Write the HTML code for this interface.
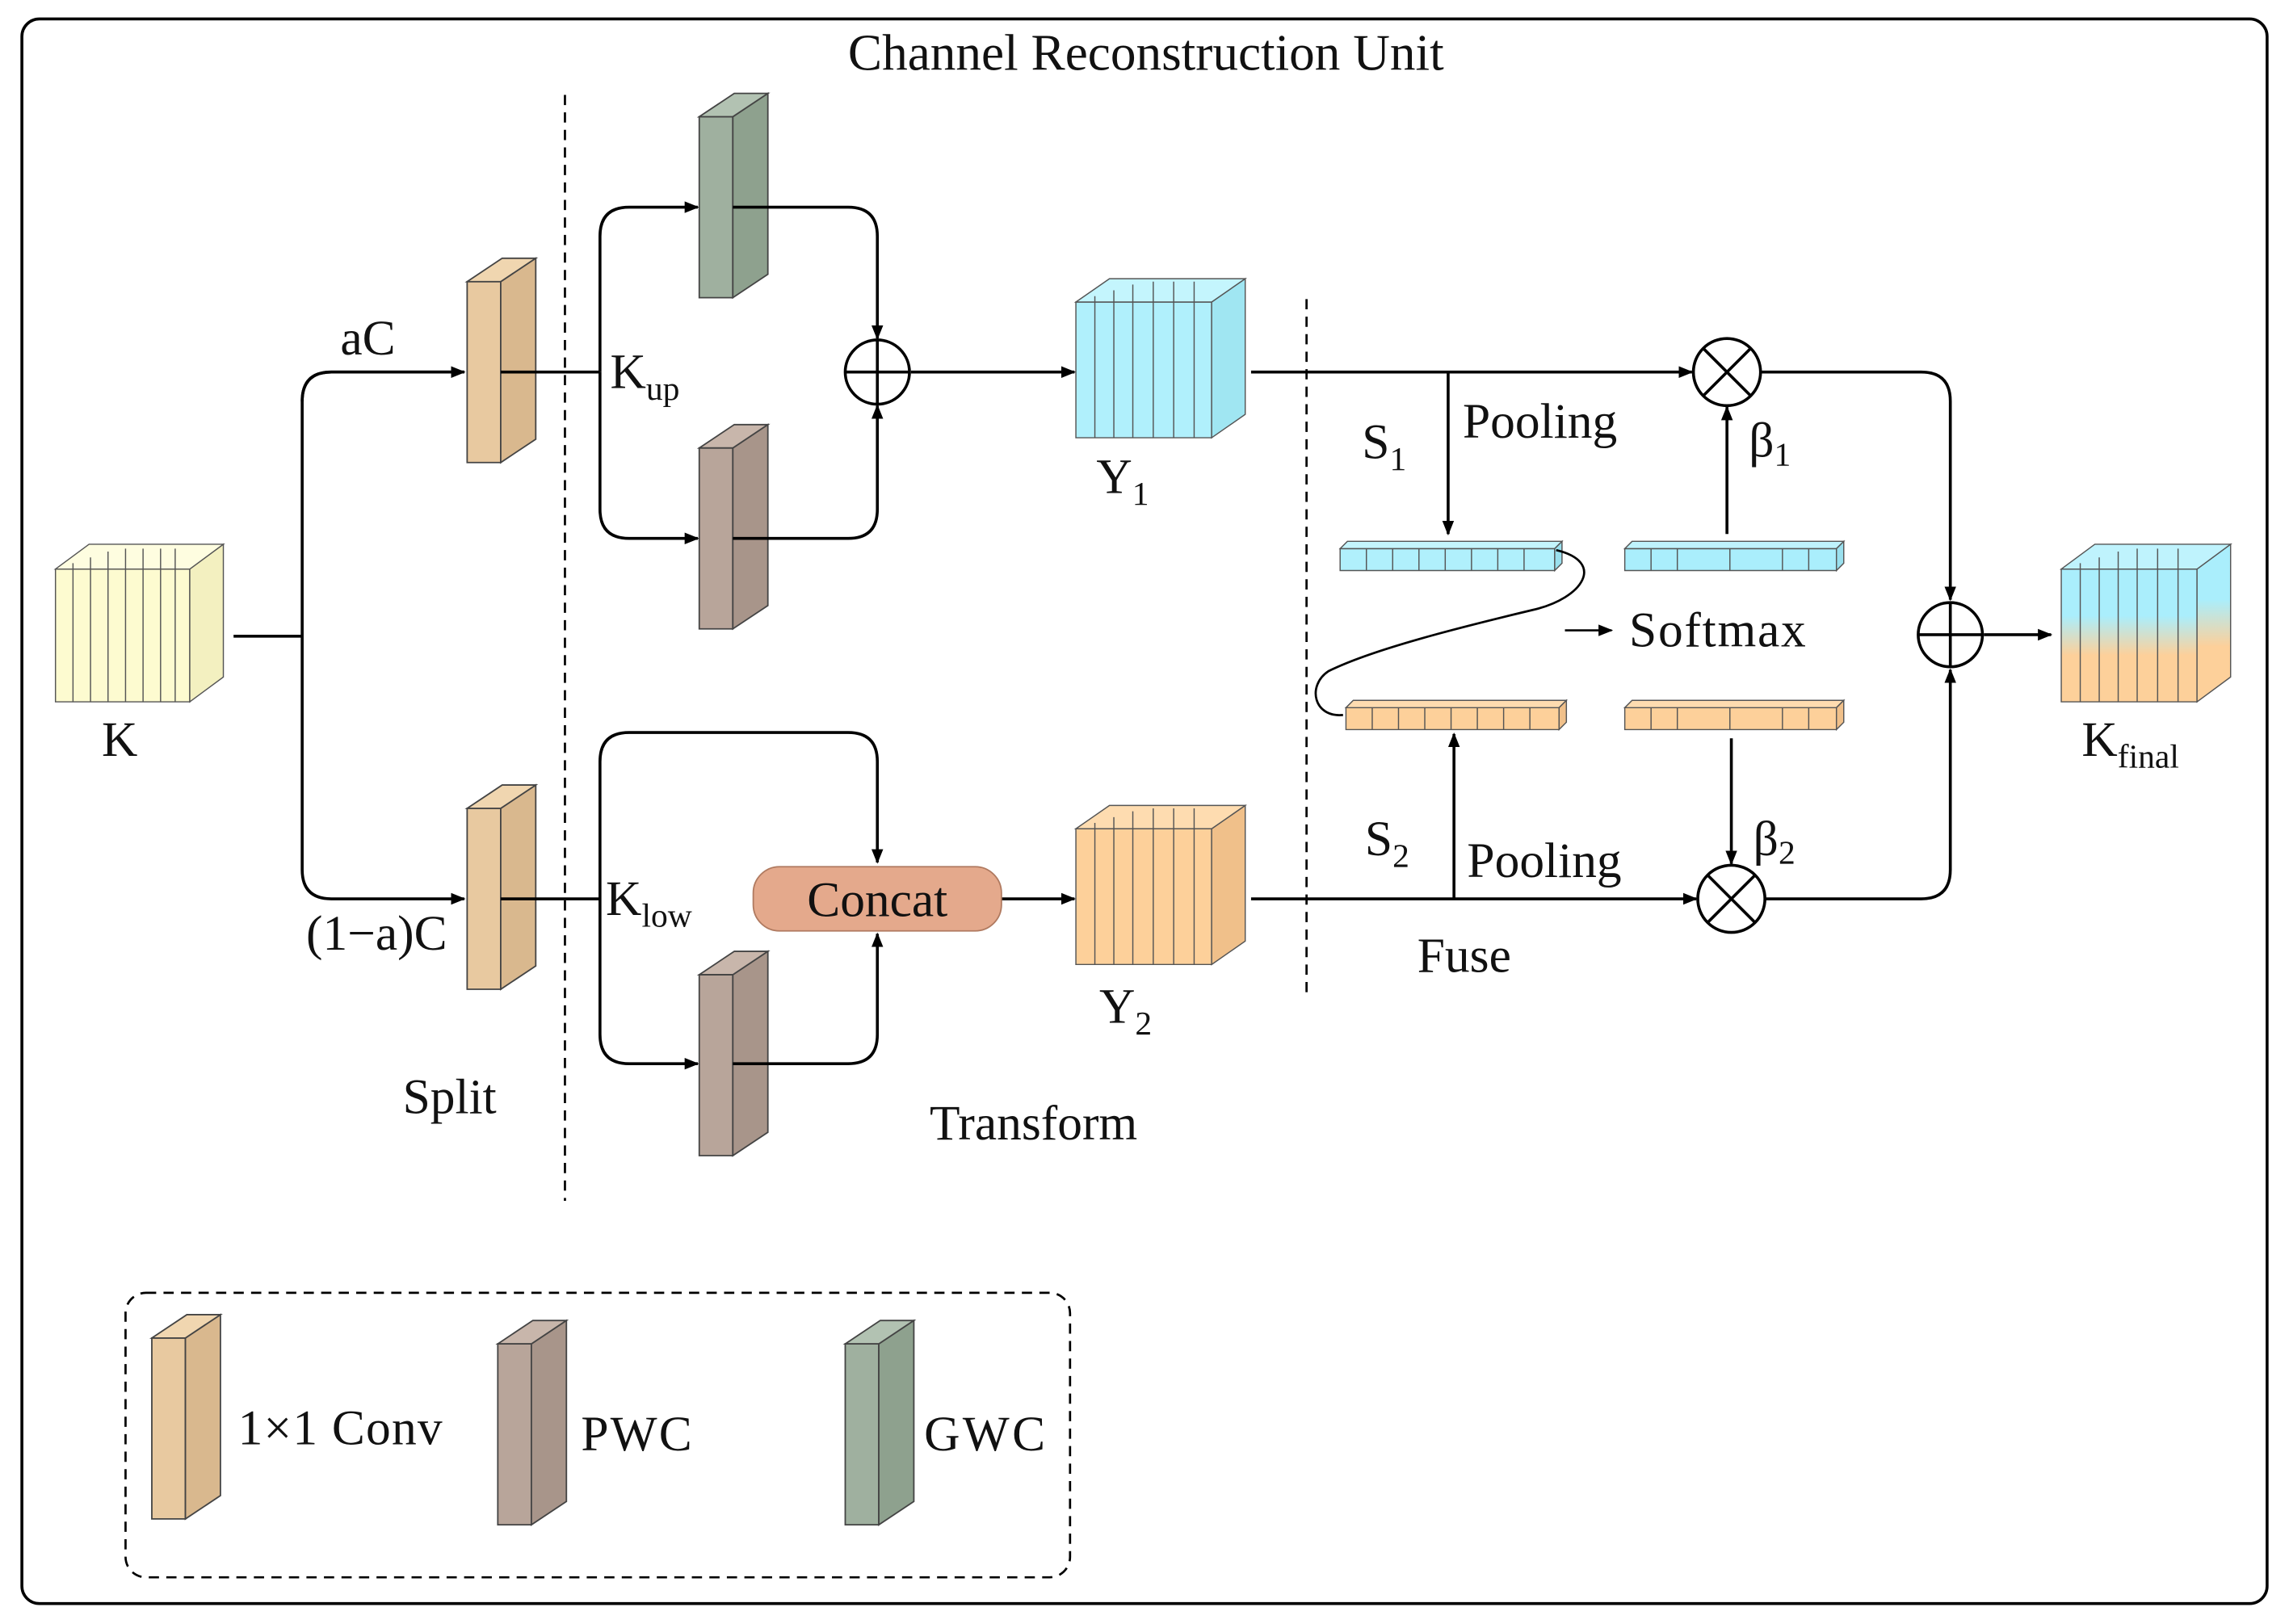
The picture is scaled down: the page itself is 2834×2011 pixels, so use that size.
<!DOCTYPE html>
<html><head><meta charset="utf-8"><style>
html,body{margin:0;padding:0;background:#fff}
svg{display:block}
text{font-family:"Liberation Serif",serif;fill:#111}
</style></head><body>
<svg width="2834" height="2011" viewBox="0 0 1568 1113" preserveAspectRatio="none" xmlns="http://www.w3.org/2000/svg">
<defs>
<marker id="ar" markerWidth="10" markerHeight="10" refX="9" refY="5" orient="auto" markerUnits="userSpaceOnUse"><path d="M0,1 L10,5 L0,9 Z" fill="#000"/></marker>
<linearGradient id="gf" x1="0" y1="0" x2="0" y2="1"><stop offset="0.35" stop-color="#aaeefc"/><stop offset="0.65" stop-color="#fdd09a"/></linearGradient>
</defs>
<rect x="15" y="13" width="1538" height="1086" rx="12" fill="#fff" stroke="#000" stroke-width="2"/>
<text x="785" y="48" font-size="35" text-anchor="middle">Channel Reconstruction Unit</text>
<g stroke="#000" stroke-width="1.5" stroke-dasharray="7,5" fill="none">
<line x1="387" y1="65" x2="387" y2="823"/>
<line x1="895" y1="205" x2="895" y2="680"/>
<rect x="86" y="886" width="647" height="195" rx="14"/>
</g>
<g stroke="#444" stroke-width="1">
<path d="M320,193 h23 v124 h-23z" fill="#e8c9a0"/><path d="M343,193 l24,-16 v124 l-24,16z" fill="#d9b88e"/><path d="M320,193 l24,-16 h23 l-24,16z" fill="#f0d6b0"/>
<path d="M320,554 h23 v124 h-23z" fill="#e8c9a0"/><path d="M343,554 l24,-16 v124 l-24,16z" fill="#d9b88e"/><path d="M320,554 l24,-16 h23 l-24,16z" fill="#f0d6b0"/>
<path d="M104,917 h23 v124 h-23z" fill="#e8c9a0"/><path d="M127,917 l24,-16 v124 l-24,16z" fill="#d9b88e"/><path d="M104,917 l24,-16 h23 l-24,16z" fill="#f0d6b0"/>
<path d="M479,80 h23 v124 h-23z" fill="#9fb09f"/><path d="M502,80 l24,-16 v124 l-24,16z" fill="#8ea18e"/><path d="M479,80 l24,-16 h23 l-24,16z" fill="#b2c2b2"/>
<path d="M579,921 h23 v124 h-23z" fill="#9fb09f"/><path d="M602,921 l24,-16 v124 l-24,16z" fill="#8ea18e"/><path d="M579,921 l24,-16 h23 l-24,16z" fill="#b2c2b2"/>
<path d="M479,307 h23 v124 h-23z" fill="#b8a59a"/><path d="M502,307 l24,-16 v124 l-24,16z" fill="#a8958a"/><path d="M479,307 l24,-16 h23 l-24,16z" fill="#c8b6ab"/>
<path d="M479,668 h23 v124 h-23z" fill="#b8a59a"/><path d="M502,668 l24,-16 v124 l-24,16z" fill="#a8958a"/><path d="M479,668 l24,-16 h23 l-24,16z" fill="#c8b6ab"/>
<path d="M341,921 h23 v124 h-23z" fill="#b8a59a"/><path d="M364,921 l24,-16 v124 l-24,16z" fill="#a8958a"/><path d="M341,921 l24,-16 h23 l-24,16z" fill="#c8b6ab"/>
</g>
<g stroke="#555" stroke-width="0.8">
<path d="M38,390 h92 v91 h-92z" fill="#fdfbd0"/><path d="M130,390 l23,-17 v91 l-23,17z" fill="#f3f0c0"/><path d="M38,390 l23,-17 h92 l-23,17z" fill="#fefde0"/>
<path d="M50,386 v95 M62,382 v99 M74,378 v103 M86,376 v105 M98,376 v105 M110,376 v105 M120,376 v105" fill="none"/>
<path d="M737,207 h93 v93 h-93z" fill="#b0f0fc"/><path d="M830,207 l23,-16 v93 l-23,16z" fill="#a0e6f2"/><path d="M737,207 l23,-16 h93 l-23,16z" fill="#c4f5fd"/>
<path d="M750,203 v97 M763,199 v101 M776,195 v105 M790,193 v107 M804,193 v107 M818,193 v107" fill="none"/>
<path d="M737,568 h93 v93 h-93z" fill="#fdd09a"/><path d="M830,568 l23,-16 v93 l-23,16z" fill="#f0c08a"/><path d="M737,568 l23,-16 h93 l-23,16z" fill="#fedcb0"/>
<path d="M750,564 v97 M763,560 v101 M776,556 v105 M790,554 v107 M804,554 v107 M818,554 v107" fill="none"/>
<path d="M1412,390 h93 v91 h-93z" fill="url(#gf)"/><path d="M1505,390 l23,-17 v91 l-23,17z" fill="url(#gf)"/><path d="M1412,390 l23,-17 h93 l-23,17z" fill="#bff3fd"/>
<path d="M1425,386 v95 M1438,382 v99 M1451,378 v103 M1464,376 v105 M1478,376 v105 M1492,376 v105" fill="none"/>
<path d="M918,376 h147 v15 h-147z" fill="#b0f0fc"/><path d="M918,376 l5,-5 h147 l-5,5z" fill="#c4f5fd"/><path d="M1065,376 l5,-5 v15 l-5,5z" fill="#9ae0ee"/>
<path d="M936,376 v15 M954,376 v15 M972,376 v15 M990,376 v15 M1008,376 v15 M1026,376 v15 M1044,376 v15" fill="none"/>
<path d="M1113,376 h145 v15 h-145z" fill="#aaeefc"/><path d="M1113,376 l5,-5 h145 l-5,5z" fill="#bff3fd"/><path d="M1258,376 l5,-5 v15 l-5,5z" fill="#9ae0ee"/>
<path d="M1131,376 v15 M1149,376 v15 M1185,376 v15 M1221,376 v15 M1239,376 v15" fill="none"/>
<path d="M922,485 h146 v15 h-146z" fill="#fdd09a"/><path d="M922,485 l5,-5 h146 l-5,5z" fill="#fedcb0"/><path d="M1068,485 l5,-5 v15 l-5,5z" fill="#f0c08a"/>
<path d="M940,485 v15 M958,485 v15 M976,485 v15 M994,485 v15 M1012,485 v15 M1030,485 v15 M1048,485 v15" fill="none"/>
<path d="M1113,485 h145 v15 h-145z" fill="#fdd09a"/><path d="M1113,485 l5,-5 h145 l-5,5z" fill="#fedcb0"/><path d="M1258,485 l5,-5 v15 l-5,5z" fill="#f0c08a"/>
<path d="M1131,485 v15 M1149,485 v15 M1185,485 v15 M1221,485 v15 M1239,485 v15" fill="none"/>
</g>
<g stroke="#000" stroke-width="2" fill="none">
<path d="M160,436 H207"/>
<path d="M318,255 H227 Q207,255 207,275 V596 Q207,616 227,616 H318" marker-end="url(#ar)"/>
<path d="M207,275 Q207,255 227,255 H318" marker-end="url(#ar)"/>
<path d="M343,255 H411"/><path d="M343,616 H411"/>
<path d="M411,255 V162 Q411,142 431,142 H478" marker-end="url(#ar)"/>
<path d="M411,255 V349 Q411,369 431,369 H478" marker-end="url(#ar)"/>
<path d="M502,142 H581 Q601,142 601,162 V232" marker-end="url(#ar)"/>
<path d="M502,369 H581 Q601,369 601,349 V278" marker-end="url(#ar)"/>
<path d="M624,255 H736" marker-end="url(#ar)"/>
<path d="M411,616 V522 Q411,502 431,502 H581 Q601,502 601,522 V591" marker-end="url(#ar)"/>
<path d="M411,616 V709 Q411,729 431,729 H478" marker-end="url(#ar)"/>
<path d="M502,729 H581 Q601,729 601,709 V640" marker-end="url(#ar)"/>
<path d="M686,616 H736" marker-end="url(#ar)"/>
<path d="M857,255 H1159" marker-end="url(#ar)"/>
<path d="M857,616 H1162" marker-end="url(#ar)"/>
<path d="M992,255 V366" marker-end="url(#ar)"/>
<path d="M996,616 V503" marker-end="url(#ar)"/>
<path d="M1183,366 V279" marker-end="url(#ar)"/>
<path d="M1186,506 V592" marker-end="url(#ar)"/>
<path d="M1206,255 H1316 Q1336,255 1336,275 V411" marker-end="url(#ar)"/>
<path d="M1209,616 H1316 Q1336,616 1336,596 V459" marker-end="url(#ar)"/>
<path d="M1359,435 H1405" marker-end="url(#ar)"/>
<path d="M1072,432 H1104" stroke-width="1.5" marker-end="url(#ar)"/>
<path d="M1066,377 C1100,385 1085,410 1050,418 C1000,430 940,445 910,460 C895,470 900,492 920,490" stroke-width="1.5"/>
<circle cx="601" cy="255" r="22" fill="#fff"/><path d="M579,255 H623 M601,233 V277"/>
<circle cx="1336" cy="435" r="22" fill="#fff"/><path d="M1314,435 H1358 M1336,413 V457"/>
<circle cx="1183" cy="255" r="23" fill="#fff"/><path d="M1167,239 L1199,271 M1199,239 L1167,271"/>
<circle cx="1186" cy="616" r="23" fill="#fff"/><path d="M1170,600 L1202,632 M1202,600 L1170,632"/>
</g>
<rect x="516" y="594" width="170" height="44" rx="18" fill="#e4a98c" stroke="#b07a60" stroke-width="1"/>
<g font-size="34">
<text x="601" y="628" text-anchor="middle">Concat</text>
<text x="82" y="518" text-anchor="middle">K</text>
<text x="252" y="243" text-anchor="middle">aC</text>
<text x="258" y="651" text-anchor="middle">(1−a)C</text>
<text x="418" y="266">K<tspan font-size="23" dy="8">up</tspan></text>
<text x="415" y="627">K<tspan font-size="23" dy="8">low</tspan></text>
<text x="751" y="338">Y<tspan font-size="23" dy="8">1</tspan></text>
<text x="753" y="701">Y<tspan font-size="23" dy="8">2</tspan></text>
<text x="308" y="763" text-anchor="middle">Split</text>
<text x="708" y="781" text-anchor="middle">Transform</text>
<text x="933" y="314">S<tspan font-size="23" dy="8">1</tspan></text>
<text x="1002" y="300">Pooling</text>
<text x="935" y="586">S<tspan font-size="23" dy="8">2</tspan></text>
<text x="1005" y="601">Pooling</text>
<text x="1003" y="666" text-anchor="middle">Fuse</text>
<text x="1198" y="313">β<tspan font-size="23" dy="6">1</tspan></text>
<text x="1201" y="586">β<tspan font-size="23" dy="6">2</tspan></text>
<text x="1116" y="443" textLength="121">Softmax</text>
<text x="1426" y="518">K<tspan font-size="23" dy="8">final</tspan></text>
<text x="163" y="990" textLength="140">1×1 Conv</text>
<text x="398" y="994" textLength="76">PWC</text>
<text x="633" y="994" textLength="83">GWC</text>
</g>
</svg>
</body></html>
